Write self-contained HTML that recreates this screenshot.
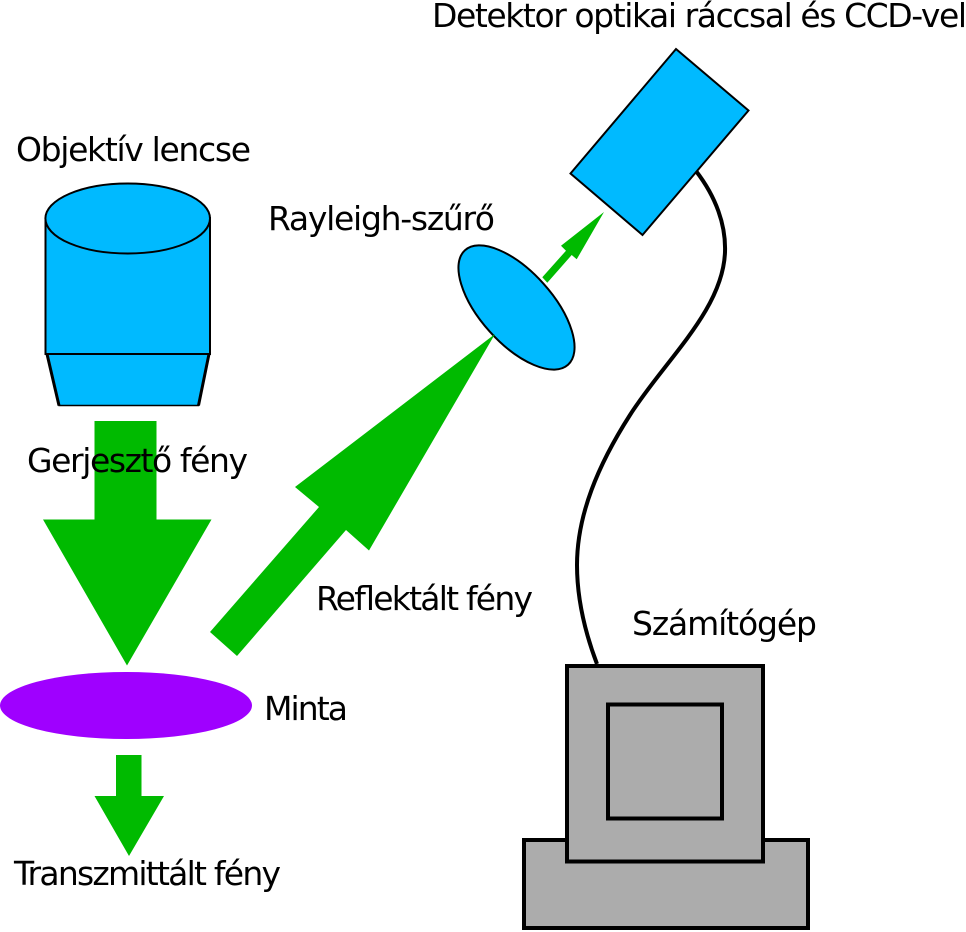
<!DOCTYPE html>
<html>
<head>
<meta charset="utf-8">
<style>
html,body{margin:0;padding:0;background:#fff;width:966px;height:932px;overflow:hidden}
svg{display:block}
text{font-family:"DejaVu Sans",sans-serif;font-size:33px;fill:#000}
</style>
</head>
<body>
<svg width="966" height="932" viewBox="0 0 966 932" xmlns="http://www.w3.org/2000/svg">
<!-- Objective -->
<path d="M47 354L59 405.500H198.500L209 354Z" fill="#00baff" stroke="#000" stroke-width="1.500"/>
<path d="M47 354L59 405.500M198.500 405.500L209 354" fill="none" stroke="#000" stroke-width="3"/>
<path d="M45.500 218V354H210V218Z" fill="#00baff" stroke="#000" stroke-width="2"/>
<ellipse cx="127.700" cy="218.500" rx="82.300" ry="35" fill="#00baff" stroke="#000" stroke-width="2"/>
<!-- Excitation arrow -->
<polygon points="94.500,421 156.500,421 156.500,519.500 211.500,519.500 127,665.500 43,519.500 94.500,519.500" fill="#00ba00"/>
<!-- Sample -->
<ellipse cx="126" cy="705.500" rx="126" ry="33.500" fill="#9f00ff"/>
<!-- Transmitted arrow -->
<polygon points="116,755 141.500,755 141.500,796 164,796 129,856 94.500,796 116,796" fill="#00ba00"/>
<!-- Rayleigh filter -->
<ellipse cx="516.500" cy="307.500" rx="77" ry="36" transform="rotate(48 516.500 307.500)" fill="#00baff" stroke="#000" stroke-width="2"/>
<!-- Reflected arrow -->
<polygon points="495,334 369,550.500 346,530 237,656 210,632 319,507 295,487" fill="#00ba00"/>
<!-- Small arrow -->
<polygon points="604,212 576.700,259.300 571.700,255 547.300,282.700 542.300,277.300 566,250.700 561,245.700" fill="#00ba00"/>
<!-- Cable -->
<path d="M696 171C716 197 726 225 725 252C723 310 665 360 630 415C598 465 577 515 577 565C577 600 586 635 597 664" fill="none" stroke="#000" stroke-width="4"/>
<!-- Detector -->
<polygon points="676,49 748.500,110.500 642.500,235 570.500,173.500" fill="#00baff" stroke="#000" stroke-width="2"/>
<!-- Computer -->
<rect x="524" y="840" width="284" height="88" fill="#acacac" stroke="#000" stroke-width="4"/>
<rect x="567" y="666" width="196" height="195.500" fill="#acacac" stroke="#000" stroke-width="4"/>
<rect x="608" y="704.500" width="114" height="114" fill="#acacac" stroke="#000" stroke-width="4"/>
<!-- Labels -->
<text x="432" y="27" textLength="535" lengthAdjust="spacing">Detektor optikai ráccsal és CCD-vel</text>
<text x="16" y="161" textLength="235" lengthAdjust="spacing">Objektív lencse</text>
<text x="268" y="230" textLength="227" lengthAdjust="spacing">Rayleigh-szűrő</text>
<text x="27" y="472" textLength="221" lengthAdjust="spacing">Gerjesztő fény</text>
<text x="316" y="610" textLength="217" lengthAdjust="spacing">Reflektált fény</text>
<text x="632" y="635" textLength="185" lengthAdjust="spacing">Számítógép</text>
<text x="264" y="720" textLength="84" lengthAdjust="spacing">Minta</text>
<text x="14" y="885" textLength="267" lengthAdjust="spacing">Transzmittált fény</text>
</svg>
</body>
</html>
